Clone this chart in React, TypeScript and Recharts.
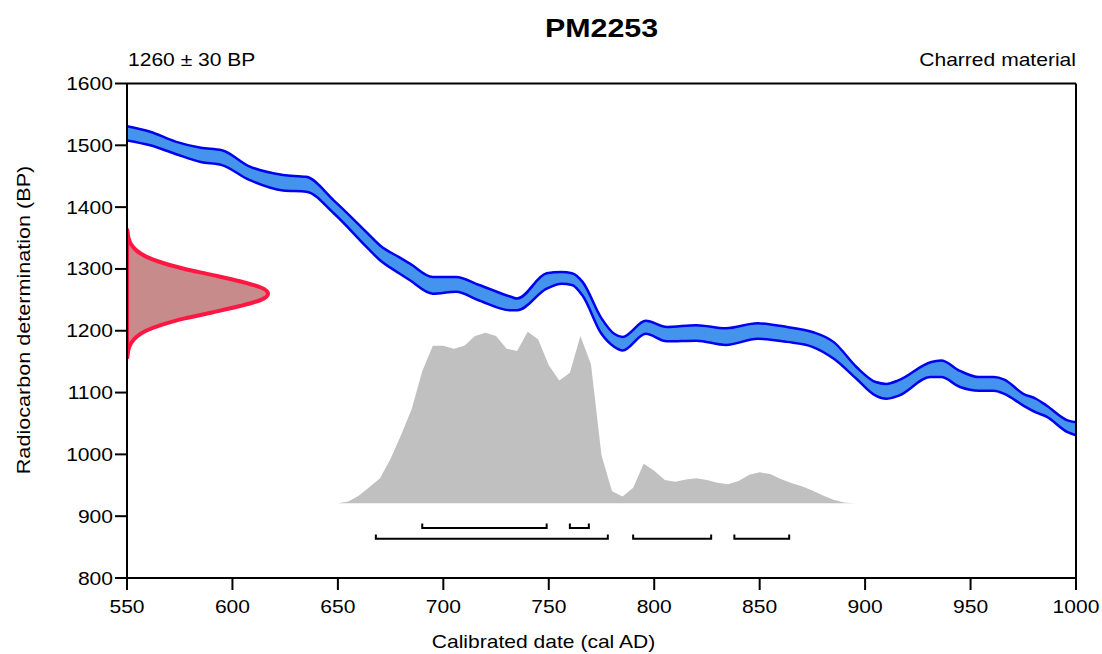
import React from 'react';
import { ComposedChart, Area, Line, XAxis, YAxis } from 'recharts';

const FONT = '"Liberation Sans", Arial, sans-serif';
const SX = 1.17;

// Calibration curve band (cal AD year, lower BP, upper BP)
const curveYears = [550, 561, 573, 585, 595, 608, 624, 635, 648, 664, 670, 679, 684, 695, 706, 717, 732, 735, 749, 756, 761, 766, 775, 781, 785, 796, 806, 820, 834, 849, 863, 875, 885, 896, 905, 910, 916, 931, 936, 945, 954, 961, 966, 975, 981, 986, 996, 1000];
const curveLower = [1508, 1500, 1486, 1473, 1468, 1444, 1427, 1425, 1390, 1334, 1314, 1293, 1282, 1260, 1263, 1249, 1233, 1233, 1268, 1276, 1274, 1257, 1195, 1174, 1168, 1195, 1183, 1184, 1177, 1187, 1182, 1174, 1155, 1122, 1095, 1090, 1095, 1125, 1125, 1109, 1103, 1103, 1098, 1079, 1068, 1061, 1036, 1031];
const curveUpper = [1531, 1522, 1506, 1496, 1492, 1466, 1452, 1449, 1411, 1358, 1338, 1319, 1309, 1287, 1287, 1274, 1255, 1252, 1293, 1295, 1293, 1279, 1220, 1195, 1190, 1216, 1206, 1209, 1204, 1212, 1206, 1198, 1182, 1141, 1117, 1114, 1120, 1149, 1152, 1135, 1125, 1125, 1121, 1098, 1090, 1079, 1055, 1052];

// Calibrated probability (relative, peak = 100)
const probYears = [650, 655, 660, 665, 670, 675, 680, 685, 690, 695, 700, 705, 710, 715, 720, 725, 730, 735, 740, 745, 750, 755, 760, 765, 770, 775, 780, 785, 790, 795, 800, 805, 810, 815, 820, 825, 830, 835, 840, 845, 850, 855, 860, 865, 870, 875, 880, 885, 890, 895];
const probValues = [0, 1, 4.5, 9.5, 14.6, 26, 40, 55, 77, 91.8, 91.8, 90, 91.8, 97.5, 99.4, 97.5, 90, 88.8, 100, 95.5, 80.5, 71.5, 76, 97.5, 81, 28, 7, 4, 9, 23, 19, 13.5, 12.6, 13.8, 14.6, 13.5, 12, 11.1, 13, 16.7, 18.1, 17, 14.2, 11.8, 10, 7.5, 4.5, 2, 0.5, 0];

// Radiocarbon measurement distribution (BP, relative probability)
const measBP = [1155, 1160, 1170, 1180, 1190, 1200, 1210, 1220, 1230, 1240, 1250, 1260, 1270, 1280, 1290, 1300, 1310, 1320, 1330, 1340, 1350, 1360, 1365];
const measP = [0, 0.004, 0.011, 0.029, 0.066, 0.135, 0.25, 0.41, 0.61, 0.8, 0.95, 1, 0.95, 0.8, 0.61, 0.41, 0.25, 0.135, 0.066, 0.029, 0.011, 0.004, 0];

// Calibrated ranges (cal AD)
const ranges68 = [[690, 749], [760, 769]];
const ranges95 = [[668, 778], [790, 827], [838, 864]];

const xTicks = [550, 600, 650, 700, 750, 800, 850, 900, 950, 1000];
const yTicks = [800, 900, 1000, 1100, 1200, 1300, 1400, 1500, 1600];

const titleText = 'PM2253';
const subLeft = '1260 ± 30 BP';
const subRight = 'Charred material';
const xTitle = 'Calibrated date (cal AD)';
const yTitle = 'Radiocarbon determination (BP)';

// layout constants (not data)
const ROW68_BP = 881;
const ROW95_BP = 863.5;
const BR_TICK = 7;

const curveData = curveYears.map((year, i) => ({ year, band: [curveLower[i], curveUpper[i]] }));
const probData = probYears.map((year, i) => ({ year, p: probValues[i] }));
const measData = measBP.map((bp, i) => ({ bp, p: measP[i] }));

const bracket = (r: number[], level: number) => [
  { year: r[0], y: level + BR_TICK },
  { year: r[0], y: level },
  { year: r[1], y: level },
  { year: r[1], y: level + BR_TICK },
];
const brackets = [
  ...ranges68.map((r) => bracket(r, ROW68_BP)),
  ...ranges95.map((r) => bracket(r, ROW95_BP)),
];

const XTick = (props: any) => {
  const { x, y, payload } = props;
  return (
    <text transform={`translate(${x},${y + 13}) scale(${SX},1)`} textAnchor="middle" fontSize={18} fontFamily={FONT} fill="#000">
      {payload.value}
    </text>
  );
};
const YTick = (props: any) => {
  const { x, y, payload } = props;
  return (
    <text transform={`translate(${x},${y + 6.5}) scale(${SX},1)`} textAnchor="end" fontSize={18} fontFamily={FONT} fill="#000">
      {payload.value}
    </text>
  );
};

const axisStroke = { stroke: '#000', strokeWidth: 2 };

export default function App() {
  return (
    <div style={{ position: 'absolute', left: 0, top: 0, width: 1102, height: 654, background: '#fff' }}>
      <div style={{ position: 'absolute', left: 0, top: 0 }}>
        <ComposedChart width={1102} height={654} layout="vertical" data={measData} margin={{ top: 83.5, right: 26, bottom: 76, left: 127 }}>
          <XAxis type="number" domain={[0, 6.73]} hide allowDataOverflow />
          <YAxis type="number" dataKey="bp" domain={[800, 1600]} reversed hide allowDataOverflow />
          <Area
            dataKey={(d: any) => [0, d.p]}
            type="monotone"
            fill="#c88b8b"
            fillOpacity={1}
            stroke="#ff1744"
            strokeWidth={4}
            dot={false}
            activeDot={false}
            isAnimationActive={false}
          />
        </ComposedChart>
      </div>
      <div style={{ position: 'absolute', left: 0, top: 0 }}>
        <ComposedChart width={1102} height={654} margin={{ top: 83.5, right: 26, bottom: 46, left: 67 }}>
          <XAxis
            xAxisId="b"
            dataKey="year"
            type="number"
            domain={[550, 1000]}
            ticks={xTicks}
            allowDataOverflow
            height={30}
            tickSize={12}
            tickMargin={10}
            axisLine={axisStroke}
            tickLine={axisStroke}
            tick={XTick}
          />
          <XAxis
            xAxisId="t"
            orientation="top"
            mirror
            dataKey="year"
            type="number"
            domain={[550, 1000]}
            ticks={xTicks}
            allowDataOverflow
            tickSize={12}
            axisLine={axisStroke}
            tickLine={axisStroke}
            tick={false}
          />
          <YAxis
            yAxisId="l"
            type="number"
            domain={[800, 1600]}
            ticks={yTicks}
            allowDataOverflow
            width={60}
            tickSize={12}
            tickMargin={2}
            axisLine={axisStroke}
            tickLine={axisStroke}
            tick={YTick}
          />
          <YAxis
            yAxisId="r"
            orientation="right"
            mirror
            type="number"
            domain={[800, 1600]}
            ticks={yTicks}
            allowDataOverflow
            tickSize={12}
            axisLine={axisStroke}
            tickLine={axisStroke}
            tick={false}
          />
          <YAxis yAxisId="p" hide type="number" domain={[-43.53, 244.6]} allowDataOverflow />
          <Area
            xAxisId="b"
            yAxisId="p"
            data={probData}
            dataKey="p"
            type="linear"
            fill="#c0c0c0"
            fillOpacity={1}
            stroke="none"
            dot={false}
            activeDot={false}
            isAnimationActive={false}
          />
          <Area
            xAxisId="b"
            yAxisId="l"
            data={curveData}
            dataKey="band"
            type="monotone"
            fill="#4494ee"
            fillOpacity={1}
            stroke="#0000ee"
            strokeWidth={2.5}
            dot={false}
            activeDot={false}
            isAnimationActive={false}
          />
          {brackets.map((b, i) => (
            <Line
              key={i}
              xAxisId="b"
              yAxisId="l"
              data={b}
              dataKey="y"
              type="linear"
              stroke="#000"
              strokeWidth={2}
              dot={false}
              activeDot={false}
              isAnimationActive={false}
            />
          ))}
        </ComposedChart>
      </div>
      <svg width={1102} height={654} style={{ position: 'absolute', left: 0, top: 0, pointerEvents: 'none' }}>
        <text transform={`translate(601.5,37) scale(${SX},1)`} textAnchor="middle" fontSize={26} fontWeight="bold" fontFamily={FONT} fill="#000">
          {titleText}
        </text>
        <text transform={`translate(128,66) scale(${SX},1)`} textAnchor="start" fontSize={18} fontFamily={FONT} fill="#000">
          {subLeft}
        </text>
        <text transform={`translate(1076,66) scale(${SX},1)`} textAnchor="end" fontSize={18} fontFamily={FONT} fill="#000">
          {subRight}
        </text>
        <text transform={`translate(543.5,648) scale(${SX},1)`} textAnchor="middle" fontSize={18} fontFamily={FONT} fill="#000">
          {xTitle}
        </text>
        <text transform={`translate(30,320) rotate(-90) scale(1.2,1)`} textAnchor="middle" fontSize={18} fontFamily={FONT} fill="#000">
          {yTitle}
        </text>
      </svg>
    </div>
  );
}
